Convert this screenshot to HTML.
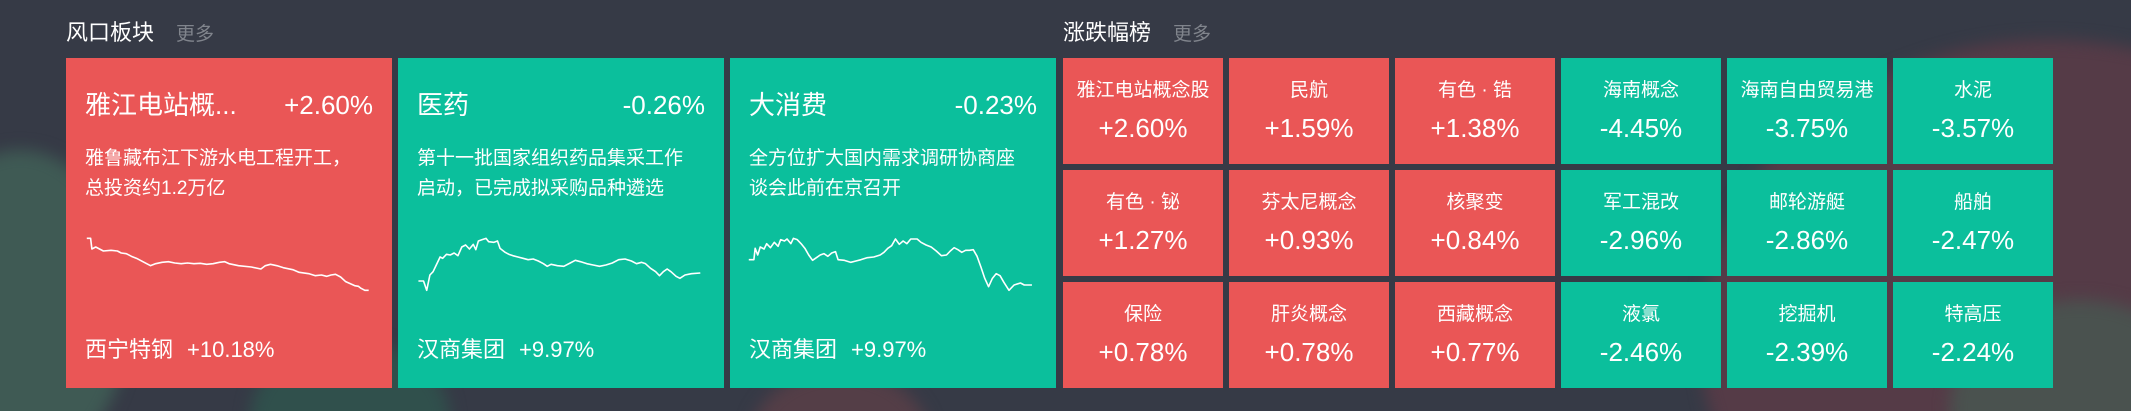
<!DOCTYPE html>
<html><head><meta charset="utf-8"><style>
*{margin:0;padding:0;box-sizing:border-box}
html,body{width:2131px;height:411px;overflow:hidden}
body{background:#363a46;font-family:"Liberation Sans","Noto Sans CJK SC",sans-serif;color:#fff;position:relative}
.bg{position:absolute;left:0;top:0;width:2131px;height:411px;overflow:hidden}
.blob{position:absolute;border-radius:50%;filter:blur(8px)}
.hd{position:absolute;top:19px;font-size:22px;line-height:28px;color:#fff}
.hd span{color:#80848c;font-size:19px;margin-left:22px}
.card{position:absolute;top:58px;height:330px;width:326px}
.r{background:#ea5656}.g{background:#0bbf9c}
.ct{position:absolute;top:30px;left:19px;right:19px;font-size:26px;line-height:34px}
.ct b{position:absolute;right:0;top:0;font-weight:normal;font-size:26px}
.cd{position:absolute;top:86px;left:19px;right:38px;font-size:19px;line-height:30px}
.cb{position:absolute;top:278px;left:19px;font-size:22px;line-height:28px}
.cb i{font-style:normal;margin-left:14px;font-size:22px}
.t{position:absolute;width:160px;height:106px;text-align:center}
.t .n{position:absolute;top:20px;width:100%;font-size:19px;line-height:26px}
.t .p{position:absolute;top:55px;width:100%;font-size:26px;line-height:30px}
</style></head><body>
<div class="bg">
<div class="blob" style="left:-90px;top:150px;width:220px;height:320px;background:#3f5a54"></div>
<div class="blob" style="left:250px;top:340px;width:200px;height:160px;background:#30504c"></div>
<div class="blob" style="left:750px;top:370px;width:180px;height:140px;background:#543e47"></div>
<div class="blob" style="left:1700px;top:40px;width:700px;height:600px;background:#553b47"></div>
<div class="blob" style="left:1950px;top:300px;width:260px;height:220px;background:#4a524f"></div>
</div>

<div class="hd" style="left:66px">风口板块<span>更多</span></div>
<div class="hd" style="left:1063px">涨跌幅榜<span>更多</span></div>

<div class="card r" style="left:66px">
<div class="ct">雅江电站概...<b>+2.60%</b></div>
<div class="cd">雅鲁藏布江下游水电工程开工，总投资约1.2万亿</div>
<div class="cb">西宁特钢<i>+10.18%</i></div>
</div>
<div class="card g" style="left:398px">
<div class="ct">医药<b>-0.26%</b></div>
<div class="cd">第十一批国家组织药品集采工作启动，已完成拟采购品种遴选</div>
<div class="cb">汉商集团<i>+9.97%</i></div>
</div>
<div class="card g" style="left:730px">
<div class="ct">大消费<b>-0.23%</b></div>
<div class="cd">全方位扩大国内需求调研协商座谈会此前在京召开</div>
<div class="cb">汉商集团<i>+9.97%</i></div>
</div>
<svg style="position:absolute;left:60px;top:225px" width="1000" height="75" viewBox="0 0 1568 225" preserveAspectRatio="none">
<g fill="none" stroke="#fff" stroke-width="1.6" stroke-linejoin="round">
<polyline vector-effect="non-scaling-stroke" points="42,40 48,40 50,72 56,66 62,72 68,78 80,76 90,78 96,84 104,86 112,94 120,100 130,110 142,122 150,116 160,112 170,110 180,114 190,116 200,114 210,116 220,115 230,118 240,116 250,112 258,110 265,116 280,122 300,126 315,132 322,122 330,118 340,122 350,128 365,134 375,142 390,146 400,152 410,150 418,154 425,150 432,148 440,156 448,170 455,176 462,182 468,184 472,190 478,196 484,196"/>
<polyline vector-effect="non-scaling-stroke" points="562,168 570,168 575,196 580,150 585,140 590,120 596,96 600,100 606,88 612,90 618,84 624,92 630,66 636,60 642,72 648,58 652,74 656,48 662,44 668,40 672,50 680,52 686,48 690,70 698,82 704,88 710,92 718,96 726,100 734,104 742,102 750,108 758,116 764,124 770,118 780,122 790,124 800,114 808,106 816,110 826,116 836,120 846,124 856,120 866,114 876,104 886,102 896,108 904,116 912,112 918,116 926,130 934,140 940,152 946,140 952,132 958,140 966,154 972,160 980,150 990,146 1004,144"/>
<polyline vector-effect="non-scaling-stroke" points="1080,104 1088,104 1090,70 1094,90 1098,66 1104,72 1108,56 1114,68 1120,52 1126,64 1130,44 1136,48 1140,42 1146,56 1150,40 1156,44 1162,56 1168,70 1174,90 1180,106 1186,98 1192,90 1198,86 1204,94 1210,84 1216,80 1220,104 1230,106 1240,112 1248,108 1256,104 1266,98 1276,96 1286,90 1292,82 1298,70 1304,62 1310,42 1316,58 1322,48 1328,56 1334,42 1344,42 1350,52 1358,60 1366,66 1374,78 1382,92 1390,90 1396,78 1402,68 1408,74 1414,82 1420,76 1426,76 1432,74 1438,94 1444,126 1450,160 1456,185 1462,160 1468,146 1474,152 1480,172 1488,196 1496,180 1506,174 1512,180 1524,180"/>
</g></svg>

<div class="t r" style="left:1063px;top:58px"><div class="n">雅江电站概念股</div><div class="p">+2.60%</div></div>
<div class="t r" style="left:1229px;top:58px"><div class="n">民航</div><div class="p">+1.59%</div></div>
<div class="t r" style="left:1395px;top:58px"><div class="n">有色 · 锆</div><div class="p">+1.38%</div></div>
<div class="t g" style="left:1561px;top:58px"><div class="n">海南概念</div><div class="p">-4.45%</div></div>
<div class="t g" style="left:1727px;top:58px"><div class="n">海南自由贸易港</div><div class="p">-3.75%</div></div>
<div class="t g" style="left:1893px;top:58px"><div class="n">水泥</div><div class="p">-3.57%</div></div>

<div class="t r" style="left:1063px;top:170px"><div class="n">有色 · 铋</div><div class="p">+1.27%</div></div>
<div class="t r" style="left:1229px;top:170px"><div class="n">芬太尼概念</div><div class="p">+0.93%</div></div>
<div class="t r" style="left:1395px;top:170px"><div class="n">核聚变</div><div class="p">+0.84%</div></div>
<div class="t g" style="left:1561px;top:170px"><div class="n">军工混改</div><div class="p">-2.96%</div></div>
<div class="t g" style="left:1727px;top:170px"><div class="n">邮轮游艇</div><div class="p">-2.86%</div></div>
<div class="t g" style="left:1893px;top:170px"><div class="n">船舶</div><div class="p">-2.47%</div></div>

<div class="t r" style="left:1063px;top:282px"><div class="n">保险</div><div class="p">+0.78%</div></div>
<div class="t r" style="left:1229px;top:282px"><div class="n">肝炎概念</div><div class="p">+0.78%</div></div>
<div class="t r" style="left:1395px;top:282px"><div class="n">西藏概念</div><div class="p">+0.77%</div></div>
<div class="t g" style="left:1561px;top:282px"><div class="n">液氯</div><div class="p">-2.46%</div></div>
<div class="t g" style="left:1727px;top:282px"><div class="n">挖掘机</div><div class="p">-2.39%</div></div>
<div class="t g" style="left:1893px;top:282px"><div class="n">特高压</div><div class="p">-2.24%</div></div>
</body></html>
